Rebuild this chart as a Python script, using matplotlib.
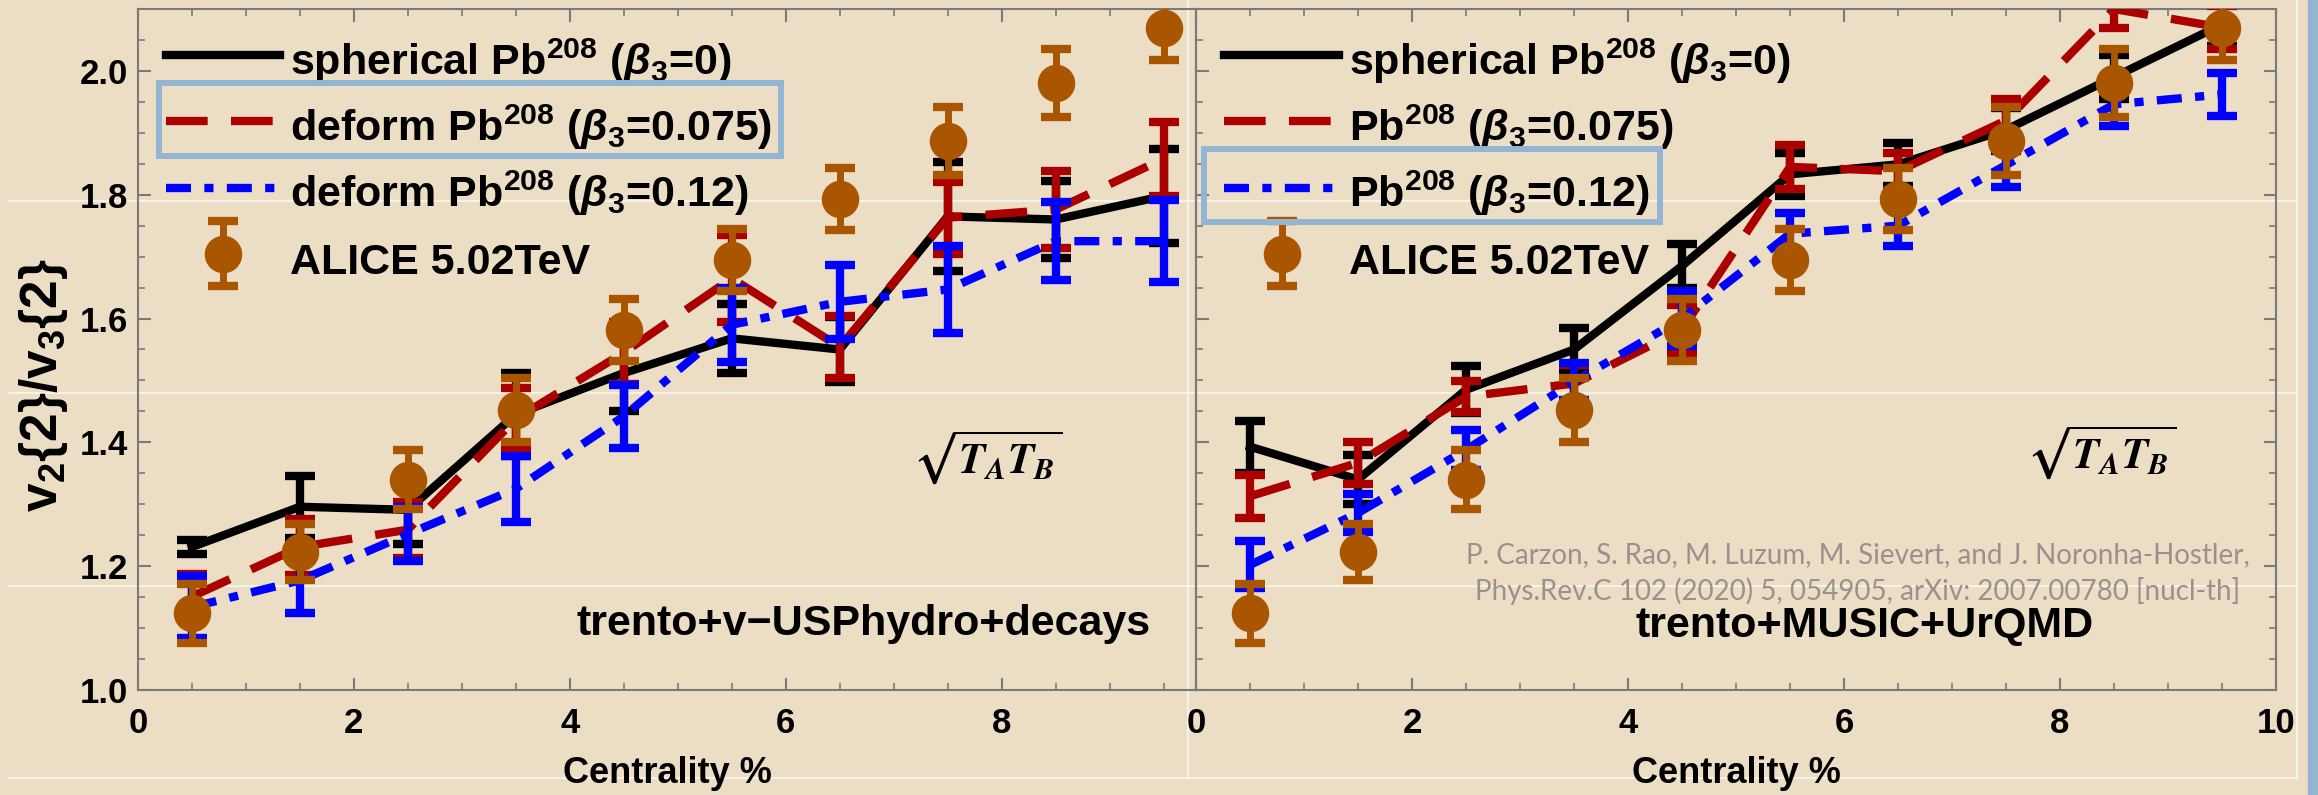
import matplotlib
matplotlib.use("Agg")
import matplotlib.pyplot as plt
from matplotlib.lines import Line2D
from matplotlib.patches import Rectangle
from matplotlib.container import ErrorbarContainer
from matplotlib.legend_handler import HandlerErrorbar
from matplotlib.ticker import MultipleLocator

plt.rcParams['font.family'] = ['Liberation Sans', 'DejaVu Sans']
plt.rcParams['font.weight'] = 'bold'
plt.rcParams['axes.labelweight'] = 'bold'
plt.rcParams['mathtext.fontset'] = 'custom'
plt.rcParams['mathtext.rm'] = 'Liberation Sans:bold'
plt.rcParams['mathtext.bf'] = 'Liberation Sans:bold'
plt.rcParams['mathtext.it'] = 'Liberation Sans:italic'

BG = '#EBDEC5'
FRAME = '#93B5D3'
GRAYAX = '#7A7A7A'

cent = [0.5, 1.5, 2.5, 3.5, 4.5, 5.5, 6.5, 7.5, 8.5, 9.5]

# ALICE 5.02 TeV v2{2}/v3{2}
alice = [1.124, 1.223, 1.340, 1.452, 1.582, 1.695, 1.793, 1.887, 1.981, 2.070]
alice_err = [0.048, 0.045, 0.047, 0.052, 0.050, 0.050, 0.050, 0.055, 0.055, 0.053]

# trento + v-USPhydro + decays
usp_sph = [1.231, 1.296, 1.291, 1.445, 1.512, 1.568, 1.550, 1.765, 1.760, 1.798]
usp_sph_err = [0.012, 0.050, 0.055, 0.067, 0.062, 0.056, 0.053, 0.088, 0.062, 0.076]
usp_b075 = [1.151, 1.231, 1.259, 1.438, 1.545, 1.665, 1.554, 1.763, 1.776, 1.858]
usp_b075_err = [0.037, 0.045, 0.045, 0.050, 0.050, 0.070, 0.050, 0.058, 0.062, 0.060]
usp_b12 = [1.134, 1.177, 1.252, 1.325, 1.442, 1.590, 1.627, 1.647, 1.725, 1.725]
usp_b12_err = [0.050, 0.052, 0.043, 0.053, 0.051, 0.060, 0.060, 0.070, 0.063, 0.066]

# trento + MUSIC + UrQMD
mus_sph = [1.393, 1.340, 1.485, 1.550, 1.685, 1.833, 1.849, 1.905, 1.990, 2.075]
mus_sph_err = [0.042, 0.040, 0.038, 0.035, 0.035, 0.035, 0.035, 0.035, 0.035, 0.035]
mus_b075 = [1.313, 1.367, 1.474, 1.495, 1.582, 1.845, 1.838, 1.920, 2.100, 2.070]
mus_b075_err = [0.035, 0.034, 0.025, 0.030, 0.040, 0.035, 0.030, 0.035, 0.030, 0.035]
mus_b12 = [1.202, 1.286, 1.388, 1.498, 1.600, 1.737, 1.750, 1.848, 1.946, 1.962]
mus_b12_err = [0.038, 0.030, 0.032, 0.030, 0.045, 0.033, 0.033, 0.035, 0.035, 0.035]

labels_usp = ['spherical Pb$^{208}$ ($\\beta_3$=0)',
              'deform Pb$^{208}$ ($\\beta_3$=0.075)',
              'deform Pb$^{208}$ ($\\beta_3$=0.12)',
              'ALICE 5.02TeV']
labels_mus = ['spherical Pb$^{208}$ ($\\beta_3$=0)',
              'Pb$^{208}$ ($\\beta_3$=0.075)',
              'Pb$^{208}$ ($\\beta_3$=0.12)',
              'ALICE 5.02TeV']

styles = [
    dict(color='black', ls='-'),
    dict(color='#AA0000', ls=(0, (5.0, 2.8))),
    dict(color='#0000FF', ls=(0, (3.0, 1.6, 1.1, 1.6))),
]


def draw_panel(ax, series, labels, xmax):
    handles = []
    for z, ((y, e), st) in enumerate(zip(series, styles)):
        ax.errorbar(cent, y, yerr=e, fmt='none', ecolor=st['color'],
                    elinewidth=6, capsize=11, capthick=6, zorder=2 + z)
        ln, = ax.plot(cent, y, color=st['color'], ls=st['ls'], lw=6,
                      zorder=2 + z)
        handles.append(ln)
    eb = ax.errorbar(cent, alice, yerr=alice_err, fmt='o', color='#AA5500',
                     ms=26, elinewidth=5, capsize=11, capthick=6, zorder=6)
    handles.append(eb)

    ax.set_xlim(0, xmax)
    ax.set_ylim(1.0, 2.1)
    ax.set_facecolor('none')
    ax.xaxis.set_major_locator(MultipleLocator(2))
    ax.xaxis.set_minor_locator(MultipleLocator(0.5))
    ax.yaxis.set_major_locator(MultipleLocator(0.2))
    ax.yaxis.set_minor_locator(MultipleLocator(0.05))
    ax.tick_params(which='both', direction='in', top=True, right=True,
                   color=GRAYAX, labelsize=25)
    ax.tick_params(which='major', length=9, width=1.5)
    ax.tick_params(which='minor', length=5, width=1.2)
    ax.tick_params(axis='x', pad=12)
    ax.tick_params(axis='y', pad=7)
    for lbl in ax.get_xticklabels() + ax.get_yticklabels():
        lbl.set_fontweight('bold')
    for s in ax.spines.values():
        s.set_color(GRAYAX)
        s.set_linewidth(1.5)
    ax.set_xlabel('Centrality %', fontsize=26, fontweight='bold', labelpad=12)

    leg = ax.legend(handles, labels, loc='upper left',
                    bbox_to_anchor=(0.026, 0.9615), frameon=False,
                    fontsize=31, handlelength=2.67, handletextpad=0.23,
                    handleheight=1.45, labelspacing=0.35,
                    borderpad=0, borderaxespad=0,
                    handler_map={ErrorbarContainer: HandlerErrorbar(yerr_size=0.75)})
    return leg


def box_entry(fig, leg, i, padl, padr, height):
    # frame one legend row (handle + label)
    r = fig.canvas.get_renderer()
    tb = leg.get_texts()[i].get_window_extent(r)
    h = leg.legend_handles[i]
    xy = h.get_transform().transform(h.get_xydata())
    x0 = xy[:, 0].min() - padl
    x1 = tb.x1 + padr
    yc = xy[0, 1] + 2
    W, H = fig.bbox.width, fig.bbox.height
    fig.add_artist(Rectangle((x0 / W, (yc - height / 2) / H),
                             (x1 - x0) / W, height / H,
                             transform=fig.transFigure, fill=False,
                             ec=FRAME, lw=4.3, zorder=10))


fig = plt.figure(figsize=(23.18, 7.95), dpi=100, facecolor=BG)

# faint slide grid behind the panels
for yp in [201, 393, 586, 778]:
    fig.add_artist(Line2D([8 / 2318, 2297 / 2318], [1 - yp / 795] * 2,
                          transform=fig.transFigure, color='white',
                          lw=1.1, alpha=0.8, zorder=-1))
for xp in [1188, 2297]:
    fig.add_artist(Line2D([xp / 2318] * 2, [1 - 778 / 795, 1],
                          transform=fig.transFigure, color='white',
                          lw=1.1, alpha=0.8, zorder=-1))
fig.add_artist(Rectangle((2308 / 2318, 0), 10 / 2318, 1,
                         transform=fig.transFigure, color=FRAME, zorder=-1))

bottom = (795 - 690) / 795
height = 681 / 795
ax1 = fig.add_axes([138 / 2318, bottom, 1058 / 2318, height])
ax2 = fig.add_axes([1196 / 2318, bottom, 1080 / 2318, height])

leg1 = draw_panel(ax1, [(usp_sph, usp_sph_err), (usp_b075, usp_b075_err),
                        (usp_b12, usp_b12_err)], labels_usp, 9.8)
leg2 = draw_panel(ax2, [(mus_sph, mus_sph_err), (mus_b075, mus_b075_err),
                        (mus_b12, mus_b12_err)], labels_mus, 10)
ax1.tick_params(which='both', right=False)
ax2.tick_params(labelleft=False)

# y axis title
fig.text(43 / 2318, 1 - 385 / 795, 'v$_2${2}/v$_3${2}', fontsize=37,
         fontweight='bold', rotation=90, ha='center', va='center')

sq = dict(fontsize=31, math_fontfamily='stix', fontweight='normal',
          ha='center', va='center')
ax1.text(0.803, 0.342, '$\\sqrt{T_A T_B}$', transform=ax1.transAxes, **sq)
ax2.text(0.838, 0.349, '$\\sqrt{T_A T_B}$', transform=ax2.transAxes, **sq)

ax1.text(0.686, 0.081, 'trento+v\u2212USPhydro+decays', transform=ax1.transAxes,
         fontsize=31, ha='center', va='baseline')
ax2.text(0.619, 0.078, 'trento+MUSIC+UrQMD', transform=ax2.transAxes,
         fontsize=31, ha='center', va='baseline')

cite = dict(transform=ax2.transAxes, fontsize=20, family='Lato',
            fontweight='normal', color='#9A918F', ha='center', va='baseline',
            zorder=1)
ax2.text(0.613, 0.186,
         'P. Carzon, S. Rao, M. Luzum, M. Sievert, and J. Noronha-Hostler,', **cite)
ax2.text(0.613, 0.132,
         'Phys.Rev.C 102 (2020) 5, 054905, arXiv: 2007.00780 [nucl-th]', **cite)

fig.canvas.draw()
box_entry(fig, leg1, 1, 7, 8, 73)
box_entry(fig, leg2, 2, 20, 10, 73)

fig.savefig('out.png', dpi=100, facecolor=BG)
